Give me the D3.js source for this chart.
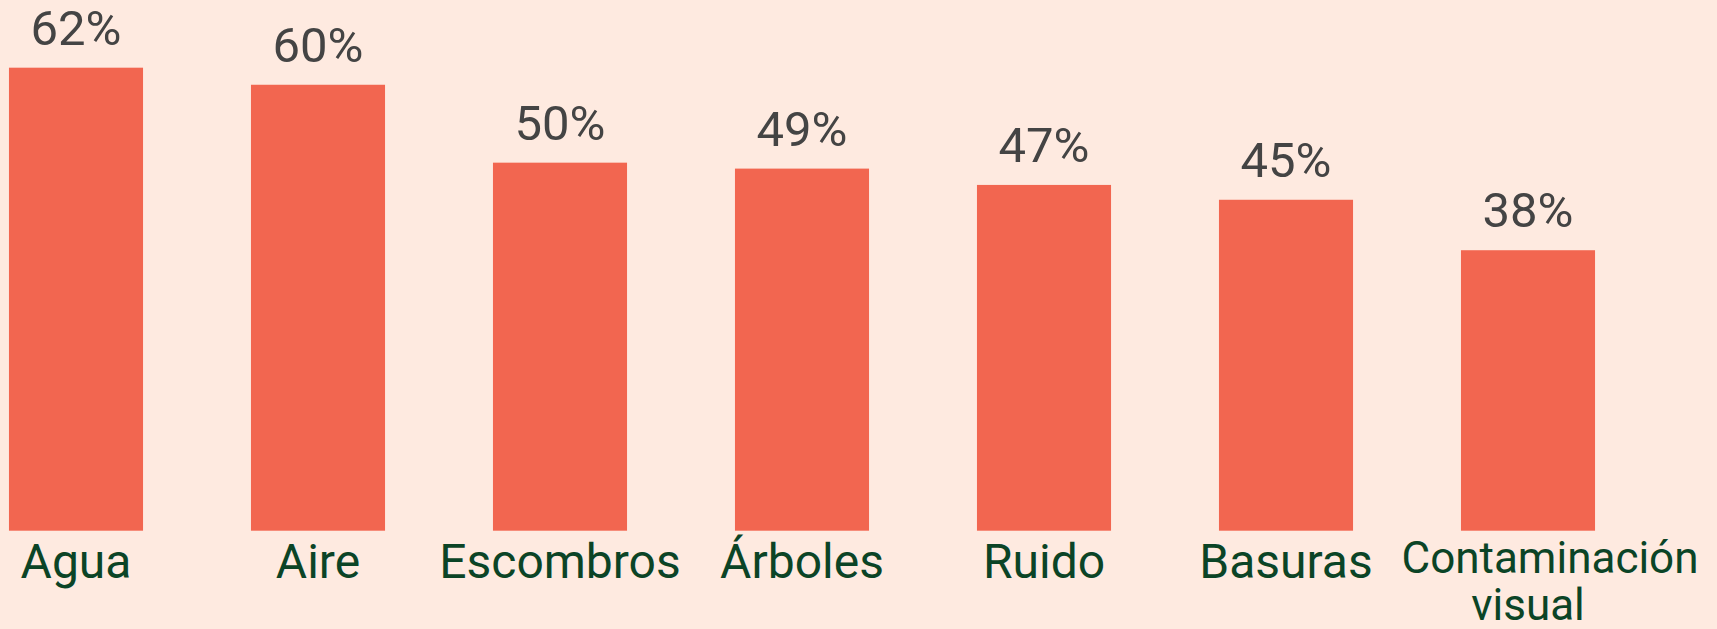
<!DOCTYPE html>
<html>
<head>
<meta charset="utf-8">
<script src="https://cdn.jsdelivr.net/npm/d3@7"></script>
<style>
  html, body { margin: 0; padding: 0; background: #feeae0; }
  svg { display: block; }
</style>
</head>
<body>
<script>
var width = 1717,
    height = 629;

var categories = ["Agua", "Aire", "Escombros", "Árboles", "Ruido", "Basuras", "Contaminación visual"];
var values = [62.4, 60.1, 49.6, 48.8, 46.6, 44.6, 37.8];

var svg = d3.select("body").append("svg")
    .attr("width", width)
    .attr("height", height)
    .style("background", "#feeae0");

var x = d3.scaleBand()
    .domain(categories)
    .range([-45, -45 + 7 * 242])
    .paddingInner(0.446)
    .paddingOuter(0.223);

var baseY = 530.7;
var y = d3.scaleLinear()
    .domain([0, 100])
    .range([baseY, baseY - 742]);

var data = categories.map(function(c, i) { return { cat: c, val: values[i] }; });

svg.selectAll("rect.bar")
    .data(data)
    .enter().append("rect")
    .attr("class", "bar")
    .attr("x", function(d) { return x(d.cat); })
    .attr("y", function(d) { return y(d.val); })
    .attr("width", x.bandwidth())
    .attr("height", function(d) { return baseY - y(d.val); })
    .attr("fill", "#f26650");

svg.selectAll("text.val")
    .data(data)
    .enter().append("text")
    .attr("class", "val")
    .attr("x", function(d) { return x(d.cat) + x.bandwidth() / 2; })
    .attr("y", function(d) { return y(d.val) - 23; })
    .attr("text-anchor", "middle")
    .style("font-family", "Roboto, 'Noto Sans', sans-serif")
    .style("font-size", "49px")
    .style("fill", "#444444")
    .text(function(d) { return Math.round(d.val) + "%"; });

var labels = svg.selectAll("text.cat")
    .data(data)
    .enter().append("text")
    .attr("class", "cat")
    .attr("x", function(d) { return x(d.cat) + x.bandwidth() / 2; })
    .attr("y", 578)
    .attr("text-anchor", "middle")
    .style("font-family", "Roboto, 'Noto Sans', sans-serif")
    .style("font-size", "48px")
    .style("fill", "#0b4426")
    .text(function(d) { return d.cat; });

// wrap labels that are wider than a band step
labels.each(function(d) {
    var t = d3.select(this);
    if (this.getComputedTextLength() <= x.step()) return;
    var cx = +t.attr("x");
    var words = d.cat.split(" ");
    t.text(null).style("font-size", "44px").attr("y", 573);
    words.forEach(function(w, i) {
        t.append("tspan")
            .attr("x", i === 0 ? cx + 22 : cx)
            .attr("dy", i === 0 ? 0 : 47)
            .text(w);
    });
});
</script>
</body>
</html>
